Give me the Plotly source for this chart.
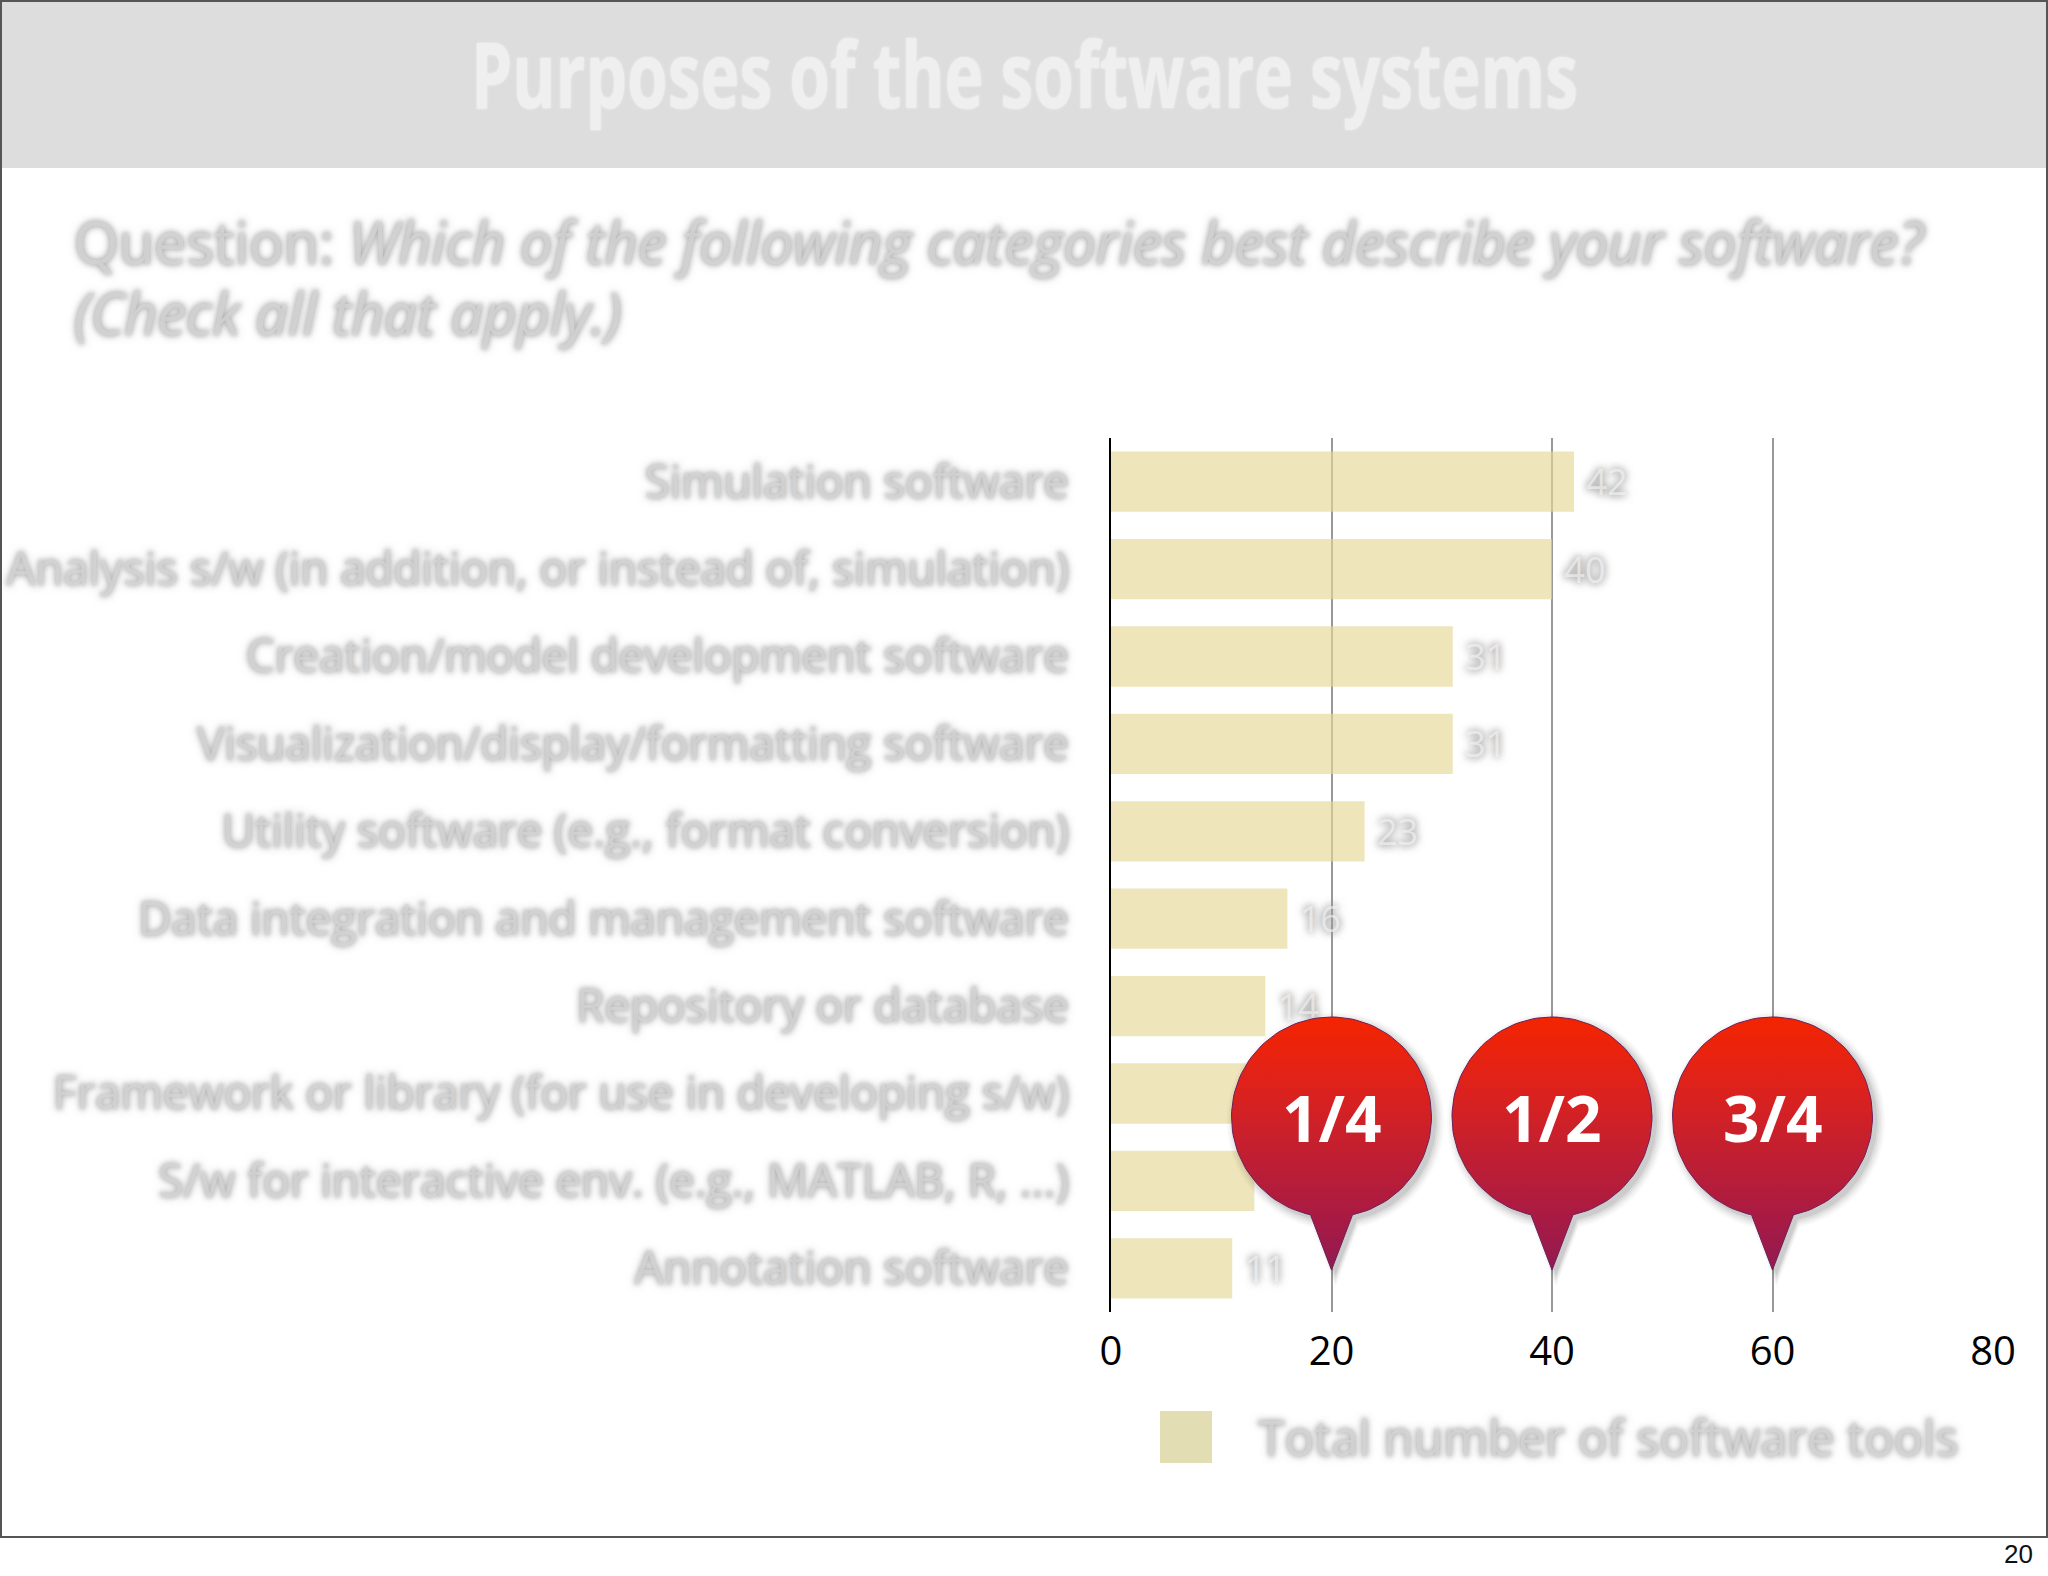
import math
import plotly.graph_objects as go

categories = [
    "Simulation software",
    "Analysis s/w (in addition, or instead of, simulation)",
    "Creation/model development software",
    "Visualization/display/formatting software",
    "Utility software (e.g., format conversion)",
    "Data integration and management software",
    "Repository or database",
    "Framework or library (for use in developing s/w)",
    "S/w for interactive env. (e.g., MATLAB, R, ...)",
    "Annotation software",
]
values = [42, 40, 31, 31, 23, 16, 14, 13, 13, 11]
x_ticks = [0, 20, 40, 60, 80]
pin_values = [20, 40, 60]
pin_labels = ["1/4", "1/2", "3/4"]
title_text = "Purposes of the software systems"
question_1 = "Question: <i>Which of the following categories best describe your software?</i>"
question_2 = "<i>(Check all that apply.)</i>"
legend_text = "Total number of software tools"
page_number = "20"

W, H = 2048, 1576
X0, X1 = 1111, 1993
Y0, Y1 = 438, 1312
BLUR = "0 0 6px #aaa, 0 0 8px #aaa, 0 0 4px #bbb"
GREY = "rgba(215,215,215,0.7)"
SANS = "Open Sans"


def pin_path(value):
    cx = X0 + value * (X1 - X0) / 80
    cy, r, tip = 1117, 100, 1270
    half = 21
    a0 = math.asin(half / r)
    xs, ys = [], []
    for i in range(121):
        a = a0 + (2 * math.pi - 2 * a0) * i / 120
        xs.append(cx + r * math.sin(a))
        ys.append(cy + r * math.cos(a))
    xs += [cx, xs[0]]
    ys += [tip, ys[0]]
    return xs, ys


fig = go.Figure()
fig.add_trace(go.Bar(
    y=categories, x=values, orientation="h",
    marker=dict(color="rgba(230,215,150,0.65)", line=dict(width=0)),
    text=[f"\u00a0{v}" for v in values], textposition="outside", cliponaxis=False,
    textfont=dict(family=SANS, size=36, color="rgba(245,245,245,0.65)",
                  shadow="0 0 7px #999, 0 0 8px #999, 0 0 10px #aaa"),
    showlegend=False, hoverinfo="skip",
))

for value in pin_values:
    xs, ys = pin_path(value)
    cx = X0 + value * (X1 - X0) / 80
    for grow, alpha in [(9, 0.02), (7, 0.03), (5, 0.04), (3, 0.05), (1, 0.07)]:
        sx = [cx + 4 + (x - cx) * (1 + grow / 100) for x in xs]
        sy = [1121 + (y - 1117) * (1 + grow / 100) for y in ys]
        fig.add_trace(go.Scatter(
            x=sx, y=sy, xaxis="x2", yaxis="y2", mode="lines", fill="toself",
            fillcolor=f"rgba(0,0,0,{alpha})", line=dict(width=0),
            showlegend=False, hoverinfo="skip",
        ))
    fig.add_trace(go.Scatter(
        x=xs, y=ys, xaxis="x2", yaxis="y2", mode="lines", fill="toself",
        fillgradient=dict(type="vertical", colorscale=[
            [0, "#921A52"], [0.2, "#A81A44"], [0.45, "#C01F32"],
            [0.75, "#E0221A"], [1, "#F42400"]]),
        line=dict(color="#6E1F5A", width=1),
        showlegend=False, hoverinfo="skip",
    ))

shapes = [
    dict(type="rect", xref="x2", yref="y2", x0=0, x1=W, y0=0, y1=168,
         fillcolor="#DDDDDD", line=dict(width=0), layer="below"),
    dict(type="line", xref="x2", yref="y2", x0=0, x1=W, y0=1, y1=1,
         line=dict(color="#555555", width=2)),
    dict(type="line", xref="x2", yref="y2", x0=1, x1=1, y0=0, y1=1537,
         line=dict(color="#555555", width=2)),
    dict(type="line", xref="x2", yref="y2", x0=W - 1, x1=W - 1, y0=0, y1=1537,
         line=dict(color="#555555", width=2)),
    dict(type="line", xref="x2", yref="y2", x0=0, x1=W, y0=1537, y1=1537,
         line=dict(color="#555555", width=2)),
    dict(type="rect", xref="x2", yref="y2", x0=1160, x1=1212, y0=1411, y1=1463,
         fillcolor="#E3DDB3", line=dict(width=0)),
]


def note(text, x, y, size, color, shadow=None, family=SANS, anchor="left", weight=None):
    font = dict(family=family, size=size, color=color)
    if shadow:
        font["shadow"] = shadow
    if weight:
        font["weight"] = weight
    return dict(text=text, x=x, y=y, xref="x2", yref="y2", xanchor=anchor,
                yanchor="middle", showarrow=False, font=font, align=anchor)


annotations = [
    note(title_text, 1024, 72, 92, "#EFEFEF", "0 0 3px #f4f4f4", anchor="center", weight="bold"),
    note(question_1, 72, 241, 57.6, GREY, BLUR),
    note(question_2, 72, 312, 57.6, GREY, BLUR),
    note(legend_text, 1256, 1437, 48.7, GREY, BLUR),
    note(page_number, 2035, 1554, 26, "#111111", family="Liberation Sans", anchor="right"),
]
for value, label in zip(pin_values, pin_labels):
    annotations.append(note(label, X0 + value * (X1 - X0) / 80, 1117, 64, "#FFFFFF",
                            anchor="center", weight="bold"))

fig.update_layout(
    width=W, height=H, margin=dict(l=0, r=0, t=0, b=0),
    paper_bgcolor="white", plot_bgcolor="rgba(0,0,0,0)",
    bargap=0.31, showlegend=False,
    xaxis=dict(domain=[X0 / W, X1 / W], range=[0, 80], tickvals=x_ticks, automargin=False,
               showgrid=True, gridcolor="#999999", gridwidth=1.5, zeroline=False,
               ticks="", ticklabelstandoff=12, showline=False,
               tickfont=dict(family=SANS, size=40, color="#000000"), anchor="y"),
    yaxis=dict(domain=[(H - Y1) / H, (H - Y0) / H], autorange="reversed", automargin=False,
               showline=True, linecolor="#000000", linewidth=2, ticks="",
               ticklabelstandoff=31, showgrid=False, anchor="x",
               tickfont=dict(family=SANS, size=45.6, color=GREY, shadow=BLUR)),
    xaxis2=dict(domain=[0, 1], range=[0, W], visible=False, anchor="y2", fixedrange=True,
                automargin=False),
    yaxis2=dict(domain=[0, 1], range=[H, 0], visible=False, anchor="x2", fixedrange=True,
                automargin=False),
    shapes=shapes, annotations=annotations,
)

squeeze = """
document.body.style.margin='0';document.body.style.overflow='hidden';
document.querySelectorAll('.annotation-text').forEach(function(t){
  if(t.textContent==='%s'){t.setAttribute('textLength','1107');t.setAttribute('lengthAdjust','spacingAndGlyphs');}
});
""" % title_text
fig.write_html("out.html", config={"displayModeBar": False}, post_script=squeeze)
